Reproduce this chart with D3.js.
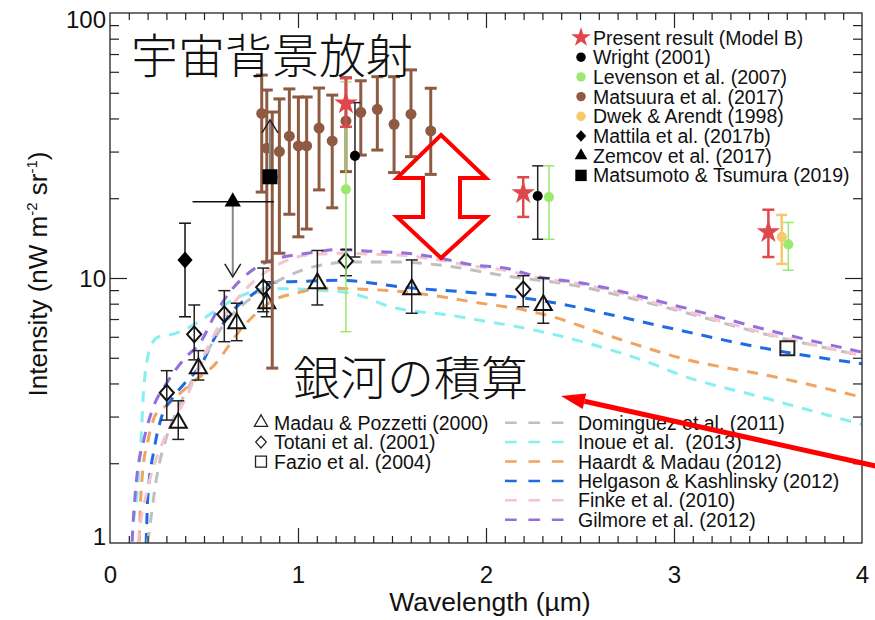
<!DOCTYPE html>
<html>
<head>
<meta charset="utf-8">
<script src="https://cdn.jsdelivr.net/npm/d3@7"></script>
<style>
  body { margin: 0; background: #fff; }
  text { font-family: "Liberation Sans", Arial, Helvetica, sans-serif; fill: #111; }
  .jp { font-family: "Noto Sans CJK JP", sans-serif; font-weight: 300; }
</style>
</head>
<body>
<svg width="875" height="620"></svg>
<script>
// ---- model curves (wavelength um, intensity nW m^-2 sr^-1) ----
const gilmoreLam = [0.105,0.12,0.14,0.18,0.23,0.3,0.4,0.48,0.56,0.64,0.7,0.8,0.9,1.05,1.22,1.4,1.58,1.75,1.93,2.1,2.28,2.5,3.03,3.56,4.0];
const gilmoreVal = [0.6,1.09,1.7,2.45,3.25,4.0,5.0,5.7,7.3,8.9,9.9,11.2,11.9,12.4,12.8,12.6,12.4,11.9,11.2,10.9,10.1,9.6,7.8,6.2,5.25];
const finkeLam = [0.12,0.15,0.2,0.27,0.35,0.41,0.5,0.6,0.73,0.87,1.05,1.25,1.4,1.6,1.75,1.93,2.1,2.28,2.5,3.0,3.5,4.0];
const finkeVal = [0.5,1.0,1.6,2.3,3.0,3.6,5.1,7.0,9.2,11.0,12.2,12.4,12.3,12.1,11.7,11.1,10.7,10.0,9.5,7.7,6.15,5.1];
const domLam = [0.15,0.2,0.25,0.3,0.35,0.42,0.5,0.6,0.76,0.9,1.1,1.3,1.5,1.75,2.1,2.46,3.0,3.5,4.0];
const domVal = [0.6,1.0,1.8,2.5,3.1,3.9,5.0,6.6,8.5,9.8,11.1,11.5,11.5,11.2,10.2,9.4,7.6,6.1,5.1];
const inoueLam = [0.11,0.12,0.141,0.167,0.18,0.22,0.26,0.32,0.4,0.48,0.57,0.65,0.74,0.83,0.95,1.1,1.3,1.49,1.83,1.98,2.19,2.37,2.55,2.9,3.0,3.5,4.0];
const inoueVal = [0.6,1.09,1.45,2.6,3.9,5.6,6.0,6.1,6.4,6.9,7.6,8.25,8.8,9.1,9.1,9.0,8.7,7.8,7.2,6.9,6.5,6.1,5.65,4.7,4.4,3.5,2.8];
const helgLam = [0.185,0.194,0.2,0.237,0.275,0.33,0.41,0.476,0.56,0.651,0.742,0.885,1.0,1.22,1.58,1.93,2.28,2.37,2.67,3.03,3.56,4.0];
const helgVal = [0.7,1.09,1.45,2.3,3.0,3.5,4.1,4.6,6.0,7.5,8.5,9.65,9.7,9.8,9.2,8.8,8.25,8.05,7.25,6.35,5.3,4.75];
const hmLam = [0.15,0.157,0.173,0.2,0.247,0.3,0.36,0.45,0.545,0.704,0.864,1.0,1.13,1.3,1.576,1.964,2.193,2.32,2.67,3.03,3.56,4.0];
const hmVal = [0.6,1.09,1.84,2.4,3.09,3.3,3.6,4.1,4.62,6.5,8.2,8.8,9.15,9.1,8.85,8.05,7.6,7.25,6.0,5.0,4.2,3.55];

// ---- measurements: [wavelength, value, low, high] ----
const matsuura = [
  [0.807,41.8,21.1,58.3],[0.834,30.9,11.5,51.2],[0.863,24.0,4.57,42.3],[0.901,30.0,12.4,47.4],
  [0.954,34.3,17.4,51.7],[1.002,31.5,14.3,48.2],[1.046,31.5,15.3,48.2],[1.112,36.8,21.5,52.1],
  [1.182,32.9,18.4,49.0],[1.255,39.1,25.2,57.0],[1.334,42.2,29.1,55.5],[1.422,43.3,30.4,57.5],
  [1.511,38.0,25.0,57.5],[1.601,41.5,28.7,61.0],[1.706,35.9,24.6,52.0]
];
const present = [[1.255,45.6,37.2,56.8],[2.198,20.9,17.0,24.0],[3.502,14.9,12.0,18.1]];
const wright = [[1.303,28.9,12.0,45.9],[2.275,20.4,14.0,26.5]];
const levenson = [[1.255,21.6,6.27,55],[2.335,20.2,14.0,26.5],[3.608,13.4,10.7,16.2]];
const dwek = [[3.573,14.3,11.3,17.3]];
const mattila = [[0.399,11.7,7.14,16.1]];
const zemcov = [[0.653,19.4,0.439,0.872,10.1]];   // lam, val, lamLo, lamHi, upper-limit arrow tip
const matsumoto = [[0.851,24.1,39.5]];            // lam, val, lower-limit arrow tip
const madau = [[0.363,2.84,2.46,3.44],[0.470,4.56,4.12,5.32],[0.674,6.75,5.80,8.03],[0.834,8.03,7.14,9.68],
  [1.103,9.55,7.91,12.7],[1.605,9.06,7.36,11.7],[2.305,7.91,6.75,10.0]];
const totani = [[0.302,3.69,2.91,4.47],[0.448,6.13,4.91,7.91],[0.608,7.30,5.75,8.96],[0.815,9.22,7.46,10.9],
  [1.255,11.6,10.2,12.8],[2.198,9.06,7.79,10.2]];
const fazio = [[3.603,5.43]];

const xTicks = [0,1,2,3,4];
const yTicks = [1,10,100];

const svg = d3.select('svg');
const x = d3.scaleLinear().domain([0,4]).range([110,862]);
const y = d3.scaleLog().domain([1,100]).range([543,13]);

svg.append('defs').append('clipPath').attr('id','clip').append('rect')
  .attr('x',110).attr('y',13).attr('width',752).attr('height',530);

// custom diamond symbol
const diamond = { draw(ctx, size) { const w = Math.sqrt(size)/2, h = w*1.12;
  ctx.moveTo(0,-h); ctx.lineTo(w,0); ctx.lineTo(0,h); ctx.lineTo(-w,0); ctx.closePath(); } };

// ---- model curves ----
const models = [
  {lam: inoueLam, val: inoueVal, color: '#86f0f0'},
  {lam: hmLam, val: hmVal, color: '#f0a462'},
  {lam: helgLam, val: helgVal, color: '#1f6be3'},
  {lam: domLam, val: domVal, color: '#c0c0c0'},
  {lam: finkeLam, val: finkeVal, color: '#f2c4cc'},
  {lam: gilmoreLam, val: gilmoreVal, color: '#9470de'}
];
const line = d3.line().x(d => x(d[0])).y(d => y(d[1])).curve(d3.curveMonotoneX);
const cg = svg.append('g').attr('clip-path','url(#clip)');
models.forEach(m => {
  cg.append('path').datum(m.lam.map((l,i) => [l, m.val[i]]))
    .attr('d', line).attr('fill','none').attr('stroke', m.color)
    .attr('stroke-width',3).attr('stroke-dasharray','11,9');
});

// ---- error bar helper ----
function errBars(data, color, sw, cap) {
  const g = svg.append('g').attr('stroke', color).attr('stroke-width', sw);
  data.forEach(d => {
    const cx = x(d[0]);
    g.append('line').attr('x1',cx).attr('x2',cx).attr('y1',y(d[2])).attr('y2',y(d[3]));
    g.append('line').attr('x1',cx-cap/2).attr('x2',cx+cap/2).attr('y1',y(d[2])).attr('y2',y(d[2]));
    g.append('line').attr('x1',cx-cap/2).attr('x2',cx+cap/2).attr('y1',y(d[3])).attr('y2',y(d[3]));
  });
}
function symbols(data, type, size, fill, stroke, sw) {
  svg.append('g').selectAll('path').data(data).join('path')
    .attr('transform', d => `translate(${x(d[0])},${y(d[1])})`)
    .attr('d', d3.symbol().type(type).size(size))
    .attr('fill', fill).attr('stroke', stroke || 'none').attr('stroke-width', sw || 0);
}

// open symbols
errBars(madau, '#222', 1.5, 12);
symbols(madau, d3.symbolTriangle, 125, 'none', '#111', 2);
errBars(totani, '#222', 1.5, 12);
symbols(totani, diamond, 200, 'none', '#111', 2);
symbols(fazio, d3.symbolSquare, 196, 'none', '#222', 2);

// Matsuura
errBars(matsuura, '#8e5a41', 3, 12);
svg.append('g').selectAll('circle').data(matsuura).join('circle')
  .attr('cx', d => x(d[0])).attr('cy', d => y(d[1])).attr('r', 5.5).attr('fill', '#8e5a41');

// Mattila
errBars(mattila, '#111', 1.5, 12);
symbols(mattila, diamond, 230, '#000');

// Zemcov
zemcov.forEach(d => {
  const cx = x(d[0]), cy = y(d[1]), ty = y(d[4]);
  svg.append('line').attr('x1', x(d[2])).attr('x2', x(d[3])).attr('y1', cy).attr('y2', cy)
    .attr('stroke', '#111').attr('stroke-width', 1.5);
  svg.append('line').attr('x1', cx).attr('x2', cx).attr('y1', cy).attr('y2', ty)
    .attr('stroke', '#888').attr('stroke-width', 2);
  svg.append('path').attr('d', `M${cx-8},${ty-13}L${cx},${ty}L${cx+8},${ty-13}`)
    .attr('fill','none').attr('stroke','#222').attr('stroke-width',1.5);
});
symbols(zemcov, d3.symbolTriangle, 115, '#000');

// Matsumoto & Tsumura
matsumoto.forEach(d => {
  const cx = x(d[0]), cy = y(d[1]), ty = y(d[2]);
  svg.append('line').attr('x1', cx).attr('x2', cx).attr('y1', cy).attr('y2', ty)
    .attr('stroke', '#888').attr('stroke-width', 2);
  svg.append('path').attr('d', `M${cx-8},${ty+13}L${cx},${ty}L${cx+8},${ty+13}`)
    .attr('fill','none').attr('stroke','#222').attr('stroke-width',1.5);
});
symbols(matsumoto, d3.symbolSquare, 225, '#000');

// Levenson, Wright, Dwek
errBars(levenson, '#9be870', 1.5, 11);
symbols(levenson, d3.symbolCircle, 80, '#9be870');
errBars(wright, '#222', 1.5, 11);
symbols(wright, d3.symbolCircle, 80, '#000');
errBars(dwek, '#f5c96c', 2.5, 11);
symbols(dwek, d3.symbolCircle, 80, '#f5c96c');

// present result
errBars(present, '#e0474d', 2.5, 12);
symbols(present, d3.symbolStar, 170, '#e0474d');

// ---- axes ----
const minorX = d3.range(1,40).map(i => i/10).filter(v => Math.abs(v - Math.round(v)) > 1e-6);
const minorY = [2,3,4,5,6,7,8,9,20,30,40,50,60,70,80,90];
function ax(axis, tr) {
  const g = svg.append('g').attr('transform', tr).call(axis);
  g.select('.domain').remove();
  g.selectAll('line').attr('stroke', '#222').attr('stroke-width', 1.2);
  return g;
}
ax(d3.axisBottom(x).tickValues(minorX).tickSize(-7).tickFormat(''), 'translate(0,543)');
ax(d3.axisBottom(x).tickValues([1,2,3]).tickSize(-15).tickFormat(''), 'translate(0,543)');
ax(d3.axisTop(x).tickValues(minorX).tickSize(-7).tickFormat(''), 'translate(0,13)');
ax(d3.axisTop(x).tickValues([1,2,3]).tickSize(-15).tickFormat(''), 'translate(0,13)');
ax(d3.axisLeft(y).tickValues(minorY).tickSize(-9).tickFormat(''), 'translate(110,0)');
ax(d3.axisLeft(y).tickValues([10]).tickSize(-17).tickFormat(''), 'translate(110,0)');
ax(d3.axisRight(y).tickValues(minorY).tickSize(-9).tickFormat(''), 'translate(862,0)');
ax(d3.axisRight(y).tickValues([10]).tickSize(-17).tickFormat(''), 'translate(862,0)');
svg.append('rect').attr('x',110).attr('y',13).attr('width',752).attr('height',530)
  .attr('fill','none').attr('stroke','#222').attr('stroke-width',1.3);

const xl = ax(d3.axisBottom(x).tickValues(xTicks).tickSize(0).tickPadding(23).tickFormat(d3.format('d')), 'translate(0,543)');
xl.selectAll('text').attr('font-size', 24).attr('font-family', null).style('fill', '#111');
const yl = ax(d3.axisLeft(y).tickValues(yTicks).tickSize(0).tickPadding(4).tickFormat(d3.format('d')), 'translate(110,0)');
yl.selectAll('text').attr('font-size', 24).attr('font-family', null).style('fill', '#111')
  .attr('dy', d => d === 100 ? '0.6em' : d === 1 ? '0.05em' : '0.34em');

svg.append('text').attr('x', 490).attr('y', 611).attr('text-anchor', 'middle')
  .attr('font-size', 26.5).text('Wavelength (\u00b5m)');
const yt = svg.append('text').attr('transform', 'translate(47,274) rotate(-90)')
  .attr('text-anchor', 'middle').attr('font-size', 26);
yt.append('tspan').text('Intensity (nW m');
yt.append('tspan').attr('dy', -10).attr('font-size', 15).text('-2');
yt.append('tspan').attr('dy', 10).text(' sr');
yt.append('tspan').attr('dy', -10).attr('font-size', 15).text('-1');
yt.append('tspan').attr('dy', 10).text(')');

// ---- legends ----
const legTop = [
  {label: 'Present result (Model B)', type: d3.symbolStar, size: 120, fill: '#e0474d'},
  {label: 'Wright (2001)', type: d3.symbolCircle, size: 70, fill: '#000'},
  {label: 'Levenson et al. (2007)', type: d3.symbolCircle, size: 70, fill: '#9be870'},
  {label: 'Matsuura et al. (2017)', type: d3.symbolCircle, size: 70, fill: '#8e5a41'},
  {label: 'Dwek & Arendt (1998)', type: d3.symbolCircle, size: 70, fill: '#f5c96c'},
  {label: 'Mattila et al. (2017b)', type: diamond, size: 110, fill: '#000'},
  {label: 'Zemcov et al. (2017)', type: d3.symbolTriangle, size: 70, fill: '#000'},
  {label: 'Matsumoto & Tsumura (2019)', type: d3.symbolSquare, size: 130, fill: '#000'}
];
legTop.forEach((d, i) => {
  const cy = 37.5 + i * 19.7;
  svg.append('path').attr('transform', `translate(581,${cy})`)
    .attr('d', d3.symbol().type(d.type).size(d.size)).attr('fill', d.fill);
  svg.append('text').attr('x', 593).attr('y', cy + 7).attr('font-size', 19.5).text(d.label);
});

const legLeft = [
  {label: 'Madau & Pozzetti (2000)', type: d3.symbolTriangle, size: 75},
  {label: 'Totani et al. (2001)', type: diamond, size: 110},
  {label: 'Fazio et al. (2004)', type: d3.symbolSquare, size: 120}
];
legLeft.forEach((d, i) => {
  const cy = 422.5 + i * 19.6;
  svg.append('path').attr('transform', `translate(261,${cy})`)
    .attr('d', d3.symbol().type(d.type).size(d.size)).attr('fill', 'none')
    .attr('stroke', '#222').attr('stroke-width', 1.3);
  svg.append('text').attr('x', 274).attr('y', cy + 7).attr('font-size', 19.5).text(d.label);
});

const legRight = [
  {label: 'Dominguez et al. (2011)', color: '#c0c0c0'},
  {label: 'Inoue et al.  (2013)', color: '#86f0f0'},
  {label: 'Haardt & Madau (2012)', color: '#f0a462'},
  {label: 'Helgason & Kashlinsky (2012)', color: '#1f6be3'},
  {label: 'Finke et al. (2010)', color: '#f2c4cc'},
  {label: 'Gilmore et al. (2012)', color: '#9470de'}
];
legRight.forEach((d, i) => {
  const cy = 422.7 + i * 19.4;
  svg.append('line').attr('x1', 505).attr('x2', 564).attr('y1', cy).attr('y2', cy)
    .attr('stroke', d.color).attr('stroke-width', 2.5).attr('stroke-dasharray', '11.7,11.7');
  svg.append('text').attr('x', 578).attr('y', cy + 7).attr('font-size', 19.5)
    .style('white-space', 'pre').text(d.label);
});

// ---- annotations ----
svg.append('text').attr('class', 'jp').attr('x', 131).attr('y', 73).attr('font-size', 47).text('宇宙背景放射');
svg.append('text').attr('class', 'jp').attr('x', 293).attr('y', 395).attr('font-size', 47).text('銀河の積算');

svg.append('path')
  .attr('d', 'M441,135L486,178L460,178L460,217L486,217L441,258L397,217L423,217L423,178L397,178Z')
  .attr('fill', 'none').attr('stroke', '#ff0000').attr('stroke-width', 4).attr('stroke-linejoin', 'miter');

const tip = [561, 396], tail = [880, 467];
const ang = Math.atan2(tail[1] - tip[1], tail[0] - tip[0]);
const hl = 24, hw = 8;
const bx = tip[0] + hl * Math.cos(ang), by = tip[1] + hl * Math.sin(ang);
svg.append('line').attr('x1', bx).attr('y1', by).attr('x2', tail[0]).attr('y2', tail[1])
  .attr('stroke', '#ff0000').attr('stroke-width', 5);
svg.append('path')
  .attr('d', `M${tip[0]},${tip[1]}L${bx - hw * Math.sin(ang)},${by + hw * Math.cos(ang)}L${bx + hw * Math.sin(ang)},${by - hw * Math.cos(ang)}Z`)
  .attr('fill', '#ff0000');
</script>
</body>
</html>
